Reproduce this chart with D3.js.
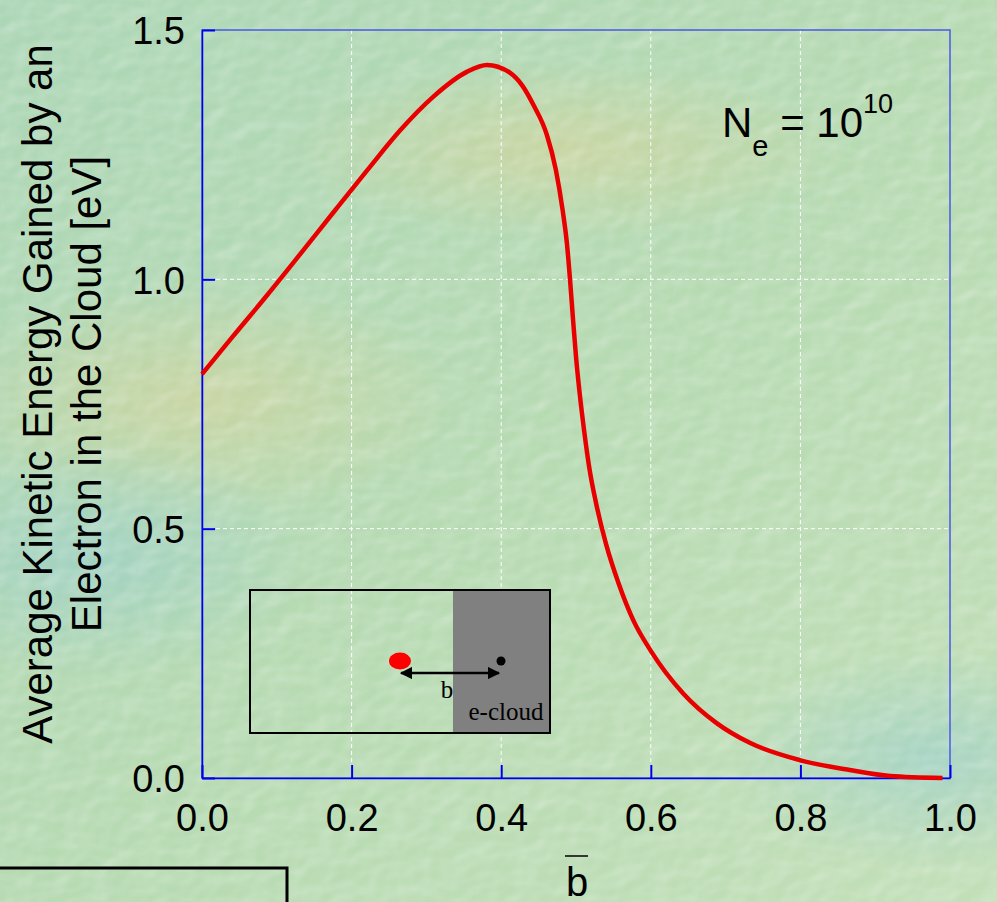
<!DOCTYPE html>
<html>
<head>
<meta charset="utf-8">
<title>e-cloud energy</title>
<script src="https://cdn.jsdelivr.net/npm/d3@7"></script>
<style>
  html, body { margin: 0; padding: 0; }
  svg { display: block; }
</style>
</head>
<body>
<script>

// curve
var bbar   = [0, 0.041, 0.087, 0.131, 0.175, 0.221, 0.265, 0.309, 0.354, 0.381, 0.412, 0.428, 0.443, 0.461, 0.473, 0.482,
              0.488, 0.492, 0.496, 0.500, 0.505, 0.511, 0.518, 0.527, 0.540, 0.557, 0.577, 0.600, 0.643, 0.688, 0.733,
              0.799, 0.866, 0.920, 0.990];
var energy = [0.81, 0.885, 0.968, 1.050, 1.133, 1.219, 1.299, 1.366, 1.416, 1.430, 1.414, 1.389, 1.350, 1.290, 1.220, 1.140,
              1.070, 1.000, 0.920, 0.845, 0.770, 0.695, 0.620, 0.550, 0.470, 0.390, 0.315, 0.255, 0.170, 0.110, 0.070,
              0.036, 0.016, 0.004, 0.000];
var xTicks = [0, 0.2, 0.4, 0.6, 0.8, 1.0];
var yTicks = [0, 0.5, 1.0, 1.5];

var W = 997, H = 902;
var margin = {top: 30, right: 47, bottom: 124, left: 202},
    width = W - margin.left - margin.right,
    height = H - margin.top - margin.bottom;

var svg = d3.select("body").append("svg")
    .attr("width", W)
    .attr("height", H);

// background, a rough take on the green texture
var defs = svg.append("defs");
var bg = defs.append("linearGradient").attr("id", "bg")
    .attr("x1", 0).attr("y1", 0).attr("x2", 1).attr("y2", 1);
bg.append("stop").attr("offset", "0%").attr("stop-color", "#acd6b6");
bg.append("stop").attr("offset", "50%").attr("stop-color", "#b6dab2");
bg.append("stop").attr("offset", "100%").attr("stop-color", "#c2dfb8");

var tan = defs.append("radialGradient").attr("id", "tan");
tan.append("stop").attr("offset", "0%").attr("stop-color", "#d2d49c").attr("stop-opacity", 0.7);
tan.append("stop").attr("offset", "100%").attr("stop-color", "#d2d49c").attr("stop-opacity", 0);
var blu = defs.append("radialGradient").attr("id", "blu");
blu.append("stop").attr("offset", "0%").attr("stop-color", "#9ccfc8").attr("stop-opacity", 0.7);
blu.append("stop").attr("offset", "100%").attr("stop-color", "#9ccfc8").attr("stop-opacity", 0);

var tex = defs.append("filter").attr("id", "tex")
    .attr("x", 0).attr("y", 0).attr("width", "100%").attr("height", "100%");
tex.append("feTurbulence").attr("type", "fractalNoise")
    .attr("baseFrequency", "0.04 0.055").attr("numOctaves", 2).attr("seed", 3).attr("result", "n");
tex.append("feDiffuseLighting").attr("in", "n").attr("surfaceScale", 3)
    .attr("lighting-color", "#ffffff").attr("result", "lit")
  .append("feDistantLight").attr("azimuth", 225).attr("elevation", 50);
tex.append("feColorMatrix").attr("in", "lit").attr("type", "matrix")
    .attr("values", "0 0 0 0 1  0 0 0 0 1  0 0 0 0 1  -1.3 0 0 0 1.15");

svg.append("rect").attr("width", W).attr("height", H).attr("fill", "url(#bg)");
svg.append("ellipse").attr("cx", 200).attr("cy", 400).attr("rx", 260).attr("ry", 120).attr("fill", "url(#tan)");
svg.append("ellipse").attr("cx", 560).attr("cy", 150).attr("rx", 280).attr("ry", 90).attr("fill", "url(#tan)");
svg.append("ellipse").attr("cx", 90).attr("cy", 560).attr("rx", 220).attr("ry", 120).attr("fill", "url(#blu)");
svg.append("ellipse").attr("cx", 930).attr("cy", 760).attr("rx", 200).attr("ry", 110).attr("fill", "url(#blu)");
svg.append("rect").attr("width", W).attr("height", H).attr("fill", "#fff")
    .attr("filter", "url(#tex)").attr("opacity", 0.45);

var g = svg.append("g")
    .attr("transform", "translate(" + margin.left + "," + margin.top + ")");

var x = d3.scaleLinear().domain([0, 1]).range([0, width]);
var y = d3.scaleLinear().domain([0, 1.5]).range([height, 0]);

// grid
g.append("g")
    .selectAll("line")
    .data(xTicks.slice(1, -1))
    .enter().append("line")
    .attr("x1", function (d) { return x(d); })
    .attr("x2", function (d) { return x(d); })
    .attr("y1", 0).attr("y2", height)
    .attr("stroke", "#ffffff").attr("stroke-width", 1).attr("stroke-dasharray", "4,3");
g.append("g")
    .selectAll("line")
    .data(yTicks.slice(1, -1))
    .enter().append("line")
    .attr("y1", function (d) { return y(d); })
    .attr("y2", function (d) { return y(d); })
    .attr("x1", 0).attr("x2", width)
    .attr("stroke", "#ffffff").attr("stroke-width", 1).attr("stroke-dasharray", "4,3");

// frame
g.append("rect")
    .attr("width", width).attr("height", height)
    .attr("fill", "none").attr("stroke", "#4a5ae6").attr("stroke-width", 1.5);

// axes, ticks pointing inward
var xAxis = g.append("g")
    .attr("transform", "translate(0," + height + ")")
    .call(d3.axisBottom(x).tickValues(xTicks).tickFormat(d3.format(".1f"))
        .tickSizeInner(-13).tickSizeOuter(0).tickPadding(26));
var yAxis = g.append("g")
    .call(d3.axisLeft(y).tickValues(yTicks).tickFormat(d3.format(".1f"))
        .tickSizeInner(-13).tickSizeOuter(0).tickPadding(17));

[xAxis, yAxis].forEach(function (a) {
  a.select(".domain").attr("stroke", "#0000ee").attr("stroke-width", 1.5);
  a.selectAll(".tick line").attr("stroke", "#0000ee").attr("stroke-width", 2);
  a.selectAll(".tick text")
      .attr("fill", "#000")
      .style("font-family", "'Liberation Sans', Arial, sans-serif")
      .style("font-size", "38px");
});
xAxis.selectAll(".tick text").attr("dy", "0.71em");
yAxis.selectAll(".tick text").attr("dy", "0.36em");

// curve
var line = d3.line()
    .x(function (d, i) { return x(bbar[i]); })
    .y(function (d) { return y(d); })
    .curve(d3.curveMonotoneX);

g.append("path")
    .datum(energy)
    .attr("fill", "none")
    .attr("stroke", "#e80000")
    .attr("stroke-width", 4.5)
    .attr("stroke-linejoin", "round")
    .attr("d", line);

// N_e = 10^10
var ne = svg.append("text")
    .attr("x", 722).attr("y", 137)
    .style("font-family", "'Liberation Sans', Arial, sans-serif")
    .style("font-size", "42px")
    .attr("fill", "#000");
ne.append("tspan").text("N");
ne.append("tspan").attr("dy", 19).style("font-size", "29px").text("e");
ne.append("tspan").attr("dy", -19).text(" = 10");
ne.append("tspan").attr("dy", -24).style("font-size", "27px").text("10");

// y title
var yt = svg.append("text")
    .attr("transform", "translate(52,394) rotate(-90)")
    .attr("text-anchor", "middle")
    .style("font-family", "'Liberation Sans', Arial, sans-serif")
    .style("font-size", "42px")
    .attr("fill", "#000");
yt.append("tspan").attr("x", 0).attr("y", 0).text("Average Kinetic Energy Gained by an");
yt.append("tspan").attr("x", 0).attr("y", 49).text("Electron in the Cloud [eV]");

// x title: b with a bar
svg.append("text")
    .attr("x", 577).attr("y", 896)
    .attr("text-anchor", "middle")
    .style("font-family", "'Liberation Sans', Arial, sans-serif")
    .style("font-size", "40px")
    .attr("fill", "#000")
    .text("b");
svg.append("line")
    .attr("x1", 565).attr("x2", 588).attr("y1", 856).attr("y2", 856)
    .attr("stroke", "#000").attr("stroke-width", 1.5);

// inset sketch
var inset = svg.append("g");
inset.append("rect")
    .attr("x", 453).attr("y", 590).attr("width", 97).attr("height", 143)
    .attr("fill", "#808080");
inset.append("rect")
    .attr("x", 250).attr("y", 590).attr("width", 300).attr("height", 143)
    .attr("fill", "none").attr("stroke", "#000").attr("stroke-width", 2);
inset.append("ellipse")
    .attr("cx", 400).attr("cy", 661).attr("rx", 11).attr("ry", 8.5)
    .attr("fill", "#ff0000");
inset.append("circle")
    .attr("cx", 501).attr("cy", 661).attr("r", 4.5)
    .attr("fill", "#000");
defs.append("marker").attr("id", "ah")
    .attr("viewBox", "0 0 10 10").attr("refX", 9).attr("refY", 5)
    .attr("markerWidth", 5).attr("markerHeight", 5).attr("orient", "auto-start-reverse")
  .append("path").attr("d", "M0,0 L10,5 L0,10 z").attr("fill", "#000");
inset.append("line")
    .attr("x1", 401).attr("x2", 499).attr("y1", 673).attr("y2", 673)
    .attr("stroke", "#000").attr("stroke-width", 2.5)
    .attr("marker-start", "url(#ah)").attr("marker-end", "url(#ah)");
inset.append("text")
    .attr("x", 447).attr("y", 698).attr("text-anchor", "middle")
    .style("font-family", "'Liberation Serif', 'Times New Roman', serif")
    .style("font-size", "25px")
    .text("b");
inset.append("text")
    .attr("x", 506).attr("y", 720).attr("text-anchor", "middle")
    .style("font-family", "'Liberation Serif', 'Times New Roman', serif")
    .style("font-size", "25px")
    .text("e-cloud");

// stray line at the bottom left of the slide
svg.append("path")
    .attr("d", "M0,868 L287,868 L287,902")
    .attr("fill", "none").attr("stroke", "#000").attr("stroke-width", 3);

</script>
</body>
</html>
